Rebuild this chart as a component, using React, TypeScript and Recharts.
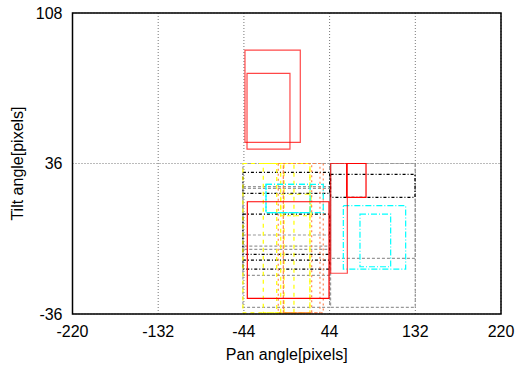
import { ComposedChart, XAxis, YAxis, CartesianGrid, ReferenceArea, Label } from "recharts"

// each rectangle: [x1, x2, y1, y2]
type Rect = [number, number, number, number]

const xTicks = [-220, -132, -44, 44, 132, 220]
const yTicks = [-36, 36, 108]

const redRects: Rect[] = [
  [-42.9, 13.9, 46.1, 90.2],
  [-40.8, 3.3, 42.9, 79.1],
  [45.1, 62.2, -16.5, 36],
]
const redSolidRects: Rect[] = [
  [-40.5, 43.4, -28.5, 17.7],
  [61.5, 81.4, 19.8, 36],
]
const cyanRects: Rect[] = [
  [58.1, 122.1, -14.5, 15.8],
  [75.2, 106.7, -13.4, 11.8],
  [-21.3, 37.5, 12.5, 26],
  [-21.3, 24, 12.5, 26],
]
const blackRects: Rect[] = [
  [-45, 44, 21.7, 31.8],
  [-45, 44, -7.5, 11.8],
  [-45, 44, -14.5, -10.2],
  [45, 131.7, 19.8, 30.8],
]
const greyRects: Rect[] = [
  [-45, 44, -32.8, 36],
  [-45, 44, -17.5, 24.9],
  [-45, 44, -5.1, 24.1],
  [-45, 44, -3.5, 1.8],
  [45, 132, -32.8, 36],
  [45, 132, -9.4, 36],
]
const yellowRects: Rect[] = [
  [-45, 23.8, -35.5, 36],
  [-24.1, 7.4, -35.5, 36],
  [-10.3, -2.8, -35.5, 36],
  [-6.2, 23.8, -35.5, 36],
  [-6.2, 25, 11, 21.3],
]
const orangeRects: Rect[] = [
  [-8.7, 34.1, -35.5, 36],
  [-3.5, 25.6, -35.5, 36],
  [-3.5, 37.5, -35.5, 36],
]

const font = "'Liberation Sans', Arial, sans-serif"

function rects(list: Rect[], key: string, stroke: string, dash?: string, opacity = 1) {
  return list.map((r, i) => (
    <ReferenceArea
      key={key + i}
      x1={r[0]}
      x2={r[1]}
      y1={r[2]}
      y2={r[3]}
      fill="none"
      stroke={stroke}
      strokeOpacity={opacity}
      strokeDasharray={dash}
      strokeWidth={1.2}
      ifOverflow="extendDomain"
    />
  ))
}

export default function App() {
  return (
    <div style={{ position: "absolute", left: 0, top: 0, background: "#fff" }}>
      <ComposedChart width={515} height={367} margin={{ top: 13, right: 14, left: 0, bottom: 3 }}>
        <CartesianGrid stroke="#777" strokeDasharray="1 2" />
        <XAxis
          type="number"
          dataKey="x"
          domain={[-220, 220]}
          ticks={xTicks}
          allowDataOverflow
          height={50}
          tickSize={0}
          tickMargin={12}
          axisLine={false}
          tick={{ fontSize: 16, fill: "#000", fontFamily: font }}
        >
          <Label value="Pan angle[pixels]" position="insideBottom" offset={4} style={{ fontSize: 16, fill: "#000", fontFamily: font }} />
        </XAxis>
        <YAxis
          type="number"
          dataKey="y"
          domain={[-36, 108]}
          ticks={yTicks}
          allowDataOverflow
          width={72.5}
          tickSize={0}
          tickMargin={10}
          axisLine={false}
          tick={{ fontSize: 16, fill: "#000", fontFamily: font }}
        >
          <Label
            value="Tilt angle[pixels]"
            angle={-90}
            position="insideLeft"
            offset={17}
            style={{ fontSize: 16, fill: "#000", fontFamily: font, textAnchor: "middle" }}
          />
        </YAxis>
        {rects(greyRects, "g", "#999", "3 2")}
        {rects(blackRects, "b", "#000", "3 2 1 2")}
        {rects(yellowRects, "y", "#ffff00", "4 4")}
        {rects(orangeRects, "o", "#ff7a40", "2 3", 0.9)}
        {rects(cyanRects, "c", "#00ffff", "6 2 1 2")}
        {rects(redRects, "r", "#ff0000", undefined, 0.72)}
        {rects(redSolidRects, "rs", "#ff0000")}
        <ReferenceArea x1={-220} x2={220} y1={-36} y2={108} fill="none" stroke="#000" strokeWidth={1.5} />
      </ComposedChart>
    </div>
  )
}
